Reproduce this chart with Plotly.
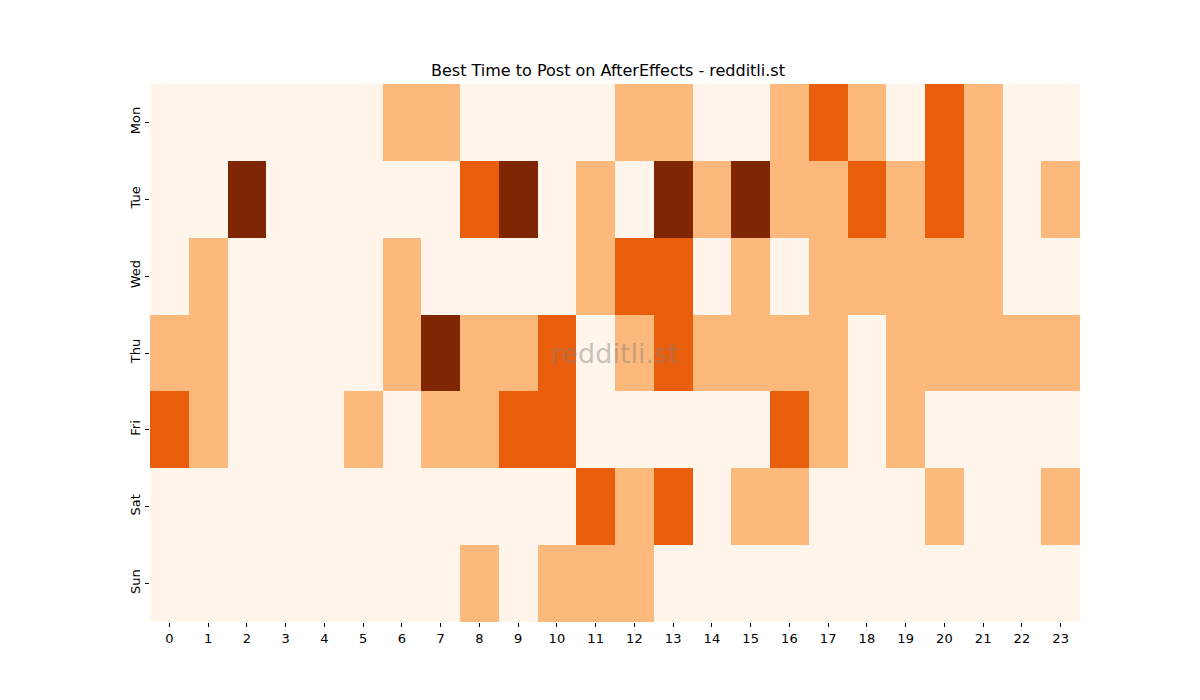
import plotly.graph_objects as go

days = ["Mon", "Tue", "Wed", "Thu", "Fri", "Sat", "Sun"]
hours = list(range(24))

mon = [0, 0, 0, 0, 0, 0, 1, 1, 0, 0, 0, 0, 1, 1, 0, 0, 1, 2, 1, 0, 2, 1, 0, 0]
tue = [0, 0, 3, 0, 0, 0, 0, 0, 2, 3, 0, 1, 0, 3, 1, 3, 1, 1, 2, 1, 2, 1, 0, 1]
wed = [0, 1, 0, 0, 0, 0, 1, 0, 0, 0, 0, 1, 2, 2, 0, 1, 0, 1, 1, 1, 1, 1, 0, 0]
thu = [1, 1, 0, 0, 0, 0, 1, 3, 1, 1, 2, 0, 1, 2, 1, 1, 1, 1, 0, 1, 1, 1, 1, 1]
fri = [2, 1, 0, 0, 0, 1, 0, 1, 1, 2, 2, 0, 0, 0, 0, 0, 2, 1, 0, 1, 0, 0, 0, 0]
sat = [0, 0, 0, 0, 0, 0, 0, 0, 0, 0, 0, 2, 1, 2, 0, 1, 1, 0, 0, 0, 1, 0, 0, 1]
sun = [0, 0, 0, 0, 0, 0, 0, 0, 1, 0, 1, 1, 1, 0, 0, 0, 0, 0, 0, 0, 0, 0, 0, 0]

z = [mon, tue, wed, thu, fri, sat, sun]

# discrete steps of the Oranges map, values 0..3
colorscale = [
    [0.0, "#fff5eb"], [1 / 6, "#fff5eb"],
    [1 / 6, "#fdb87c"], [0.5, "#fdb87c"],
    [0.5, "#e95e0d"], [5 / 6, "#e95e0d"],
    [5 / 6, "#7f2704"], [1.0, "#7f2704"],
]

fig = go.Figure(go.Heatmap(
    z=z, x=hours, y=days,
    colorscale=colorscale, zmin=0, zmax=3,
    showscale=False, xgap=0, ygap=0,
))

fig.update_layout(
    width=1200, height=700,
    margin=dict(l=142, r=128, t=76, b=86),
    plot_bgcolor="white", paper_bgcolor="white",
    font=dict(family="DejaVu Sans", size=13, color="black"),
    title=dict(text="Best Time to Post on AfterEffects - redditli.st",
               x=0.5, xanchor="center", y=1 - 62 / 700, yanchor="middle",
               font=dict(size=16)),
    xaxis=dict(tickmode="array", tickvals=hours, ticks="outside", ticklen=4,
               tickcolor="black", showgrid=False, zeroline=False,
               range=[-0.5, 23.5]),
    yaxis=dict(autorange="reversed", ticks="outside", ticklen=4,
               tickcolor="black", showgrid=False, zeroline=False,
               tickangle=-90),
    annotations=[dict(text="redditli.st", x=0.5, y=0.5, xref="paper", yref="paper",
                      showarrow=False,
                      font=dict(size=27, color="rgba(128,128,128,0.45)"))],
)

fig.write_html("out.html")
